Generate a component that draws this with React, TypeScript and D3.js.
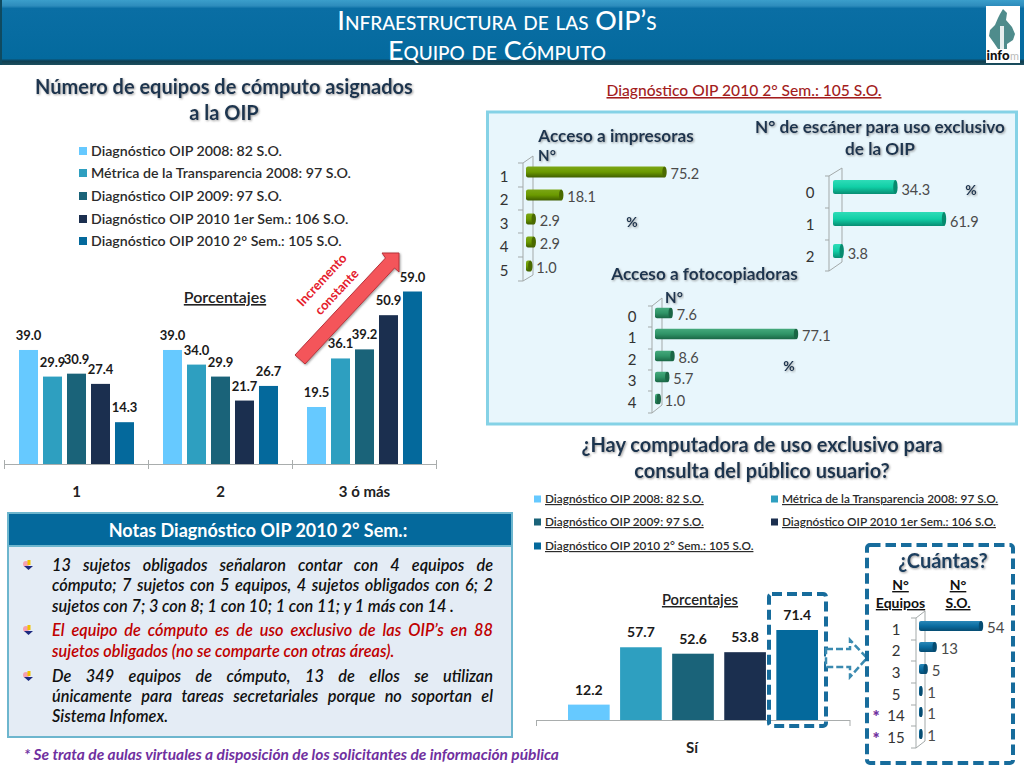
import React, { useLayoutEffect, useRef } from "react";
import * as d3 from "d3";

const FONT = "Lato, 'Open Sans', sans-serif";

const seriesNames = [
  "Diagnóstico OIP 2008: 82 S.O.",
  "Métrica de la Transparencia 2008: 97 S.O.",
  "Diagnóstico OIP 2009: 97 S.O.",
  "Diagnóstico OIP 2010 1er Sem.: 106 S.O.",
  "Diagnóstico OIP 2010 2° Sem.: 105 S.O.",
];
const seriesColors = ["#66c9ff", "#2e9fc0", "#1a6379", "#1b2f4f", "#04699c"];

const equipoCats = ["1", "2", "3 ó más"];
const equipoValues = [
  [39.0, 29.9, 30.9, 27.4, 14.3],
  [39.0, 34.0, 29.9, 21.7, 26.7],
  [19.5, 36.1, 39.2, 50.9, 59.0],
];

const impresoraCats = ["1", "2", "3", "4", "5"];
const impresoraValues = [75.2, 18.1, 2.9, 2.9, 1.0];
const escanerCats = ["0", "1", "2"];
const escanerValues = [34.3, 61.9, 3.8];
const fotoCats = ["0", "1", "2", "3", "4"];
const fotoValues = [7.6, 77.1, 8.6, 5.7, 1.0];

const consultaValues = [12.2, 57.7, 52.6, 53.8, 71.4];
const cuantasCats = ["1", "2", "3", "5", "14", "15"];
const cuantasValues = [54, 13, 5, 1, 1, 1];

const notes = [
  { t: "13 sujetos obligados señalaron contar con 4 equipos de", y: 571, j: true, c: "#111" },
  { t: "cómputo; 7 sujetos con 5 equipos, 4 sujetos obligados con 6; 2", y: 591, j: true, c: "#111" },
  { t: "sujetos con 7; 3 con 8; 1 con 10; 1 con 11; y 1 más con 14 .", y: 612, j: false, c: "#111" },
  { t: "El equipo de cómputo es de uso exclusivo de las OIP’s en 88", y: 636, j: true, c: "#c00000" },
  { t: "sujetos obligados (no se comparte con otras áreas).", y: 657, j: false, c: "#c00000" },
  { t: "De 349 equipos de cómputo, 13 de ellos se utilizan", y: 682, j: true, c: "#111" },
  { t: "únicamente para tareas secretariales porque no soportan el", y: 702, j: true, c: "#111" },
  { t: "Sistema Infomex.", y: 722, j: false, c: "#111" },
];

function Heading({ x, y, size, children, fill = "#1d3650" }: any) {
  return (
    <text x={x} y={y} textAnchor="middle" fontSize={size} fontWeight={700} fill={fill} filter="url(#soft)">
      {children}
    </text>
  );
}

function ULabel({ x, y, size, children, fill = "#222", weight = 600 }: any) {
  return (
    <text x={x} y={y} textAnchor="middle" fontSize={size} fontWeight={weight} fill={fill} textDecoration="underline">
      {children}
    </text>
  );
}

type HBarProps = {
  cats: string[]; values: number[]; ys: number[]; x0: number; unit: number; cap: number; h: number;
  gradient: string; capFill: string; catX: number; catDy: number; labelDy: number; labelSize?: number;
  digits?: number; frame: { fx: number; bx: number; ft: number; fb: number; bt: number; bb: number; tickLen: number; ticks: number[] };
};

function HBars({ cats, values, ys, x0, unit, cap, h, gradient, capFill, catX, catDy, labelDy, labelSize = 14.5, digits = 1, frame }: HBarProps) {
  const x = d3.scaleLinear().domain([0, 1]).range([x0, x0 + unit]);
  return (
    <g>
      <g stroke="#a3a9a9" strokeWidth={1} fill="none">
        <path d={`M${frame.fx},${frame.ft}L${frame.bx},${frame.bt}L${frame.bx},${frame.bb}L${frame.fx},${frame.fb}Z`} />
        {frame.ticks.map((t) => (
          <line key={t} x1={frame.fx - frame.tickLen} x2={frame.fx} y1={t} y2={t} />
        ))}
      </g>
      {values.map((v, i) => {
        const end = x(v) + cap;
        return (
          <g key={i}>
            <rect x={x0} y={ys[i] - h / 2} width={end - x0} height={h} rx={2} fill={`url(#${gradient})`} />
            <ellipse cx={end - 1} cy={ys[i]} rx={Math.min(2.2, (end - x0) / 2)} ry={h / 2} fill={capFill} />
            <text x={end + 5} y={ys[i] + labelDy} fontSize={labelSize} fill="#4a4a4a">
              {v.toFixed(digits)}
            </text>
            <text x={catX} y={ys[i] + catDy} fontSize={15} fill="#333" textAnchor="middle">
              {cats[i]}
            </text>
          </g>
        );
      })}
    </g>
  );
}

export default function App() {
  const notesRef = useRef<SVGGElement>(null);

  useLayoutEffect(() => {
    const g = notesRef.current;
    if (!g) return;
    g.querySelectorAll("text[data-j='1']").forEach((el: any) => {
      el.style.wordSpacing = "0px";
      const natural = el.getComputedTextLength();
      const gaps = (el.textContent.match(/ /g) || []).length;
      el.style.wordSpacing = `${(441 - natural) / gaps}px`;
    });
  }, []);

  const yL = d3.scaleLinear().domain([0, 59]).range([464, 291.5]);
  const x0L = d3.scaleBand<string>().domain(equipoCats).range([4.5, 436.5]);
  const x1L = d3.scaleBand<number>().domain(d3.range(5)).range([14.5, 129.5]).paddingInner(0.208);
  const yB = d3.scaleLinear().domain([0, 71.4]).range([720, 630]);
  const xB = d3.scaleBand<number>().domain(d3.range(5)).range([568, 818]).paddingInner(0.2);

  return (
    <svg
      width={1024}
      height={768}
      viewBox="0 0 1024 768"
      style={{ position: "absolute", left: 0, top: 0, background: "#fff" }}
      fontFamily={FONT}
    >
      <defs>
        <filter id="soft" x="-5%" y="-20%" width="110%" height="150%">
          <feDropShadow dx="1" dy="1" stdDeviation="0.8" floodColor="#777" floodOpacity="0.7" />
        </filter>
        <linearGradient id="hdr" x1="0" y1="0" x2="0" y2="1">
          <stop offset="0" stopColor="#3b9ecb" />
          <stop offset="0.09" stopColor="#2d8cbc" />
          <stop offset="0.13" stopColor="#0a6ea4" />
          <stop offset="0.9" stopColor="#046a9e" />
          <stop offset="0.94" stopColor="#103f52" />
          <stop offset="1" stopColor="#1c4f5f" />
        </linearGradient>
        <linearGradient id="olive" x1="0" y1="0" x2="0" y2="1">
          <stop offset="0" stopColor="#7ba616" />
          <stop offset="0.5" stopColor="#6b9a00" />
          <stop offset="1" stopColor="#3f5e00" />
        </linearGradient>
        <linearGradient id="teal" x1="0" y1="0" x2="0" y2="1">
          <stop offset="0" stopColor="#2fdcb8" />
          <stop offset="0.5" stopColor="#10cfa6" />
          <stop offset="1" stopColor="#078d72" />
        </linearGradient>
        <linearGradient id="green" x1="0" y1="0" x2="0" y2="1">
          <stop offset="0" stopColor="#45a97c" />
          <stop offset="0.5" stopColor="#2f9467" />
          <stop offset="1" stopColor="#1a6645" />
        </linearGradient>
        <linearGradient id="blue" x1="0" y1="0" x2="0" y2="1">
          <stop offset="0" stopColor="#2a88b8" />
          <stop offset="0.5" stopColor="#0a6ca0" />
          <stop offset="1" stopColor="#064c72" />
        </linearGradient>
      </defs>

      {/* Header */}
      <rect x={0} y={0} width={1024} height={65} fill="url(#hdr)" />
      <rect x={0} y={0} width={2} height={65} fill="#0f4a60" />
      <g fill="#fff" textAnchor="middle" fontWeight={500} style={{ fontVariant: "small-caps" }}>
        <text x={497} y={30} fontSize={26.8}>Infraestructura de las OIP’s</text>
        <text x={497} y={60} fontSize={26.8}>Equipo de Cómputo</text>
      </g>
      {/* Logo */}
      <rect x={986} y={6} width={34} height={57} fill="#fff" />
      <path
        d="M1003,9 L1007,13 L1006,20 L1012,27 L1015,34 L1013,40 L1007,44 L1007,49 L998,49 L994,43 L989,36 L990,30 L995,25 L998,18 L1000,14 Z"
        fill="#4f8c8c"
      />
      <rect x={1000} y={26} width={4} height={23} fill="#e6eeee" />
      <text x={986.5} y={60} fontSize={14} fontWeight={900} fill="#111" textLength={23} lengthAdjust="spacingAndGlyphs">info</text>
      <text x={1010} y={60} fontSize={11} fill="#bbb" textLength={9} lengthAdjust="spacingAndGlyphs">m</text>

      {/* Left heading */}
      <Heading x={224} y={94} size={20}>Número de equipos de cómputo asignados</Heading>
      <Heading x={224} y={120} size={20}>a la OIP</Heading>

      {/* Left legend */}
      {seriesNames.map((n, i) => {
        const ly = [151, 173, 196, 219, 241][i];
        return (
          <g key={n}>
            <rect x={79} y={ly - 4} width={8} height={8} fill={seriesColors[i]} />
            <text x={91} y={ly + 5} fontSize={14.2} fontWeight={600} fill="#2b2b2b">{n}</text>
          </g>
        );
      })}

      <ULabel x={225} y={303} size={16}>Porcentajes</ULabel>

      {/* Left grouped bars */}
      {equipoCats.map((c, gi) => (
        <g key={c} transform={`translate(${x0L(c)},0)`}>
          {equipoValues[gi].map((v, si) => (
            <g key={si}>
              <rect x={x1L(si)} y={yL(v)} width={x1L.bandwidth()} height={464 - yL(v)} fill={seriesColors[si]} />
              <text x={x1L(si)! + x1L.bandwidth() / 2} y={yL(v) - 10} textAnchor="middle" fontSize={13} fontWeight={700} fill="#1a1a1a">
                {v.toFixed(1)}
              </text>
            </g>
          ))}
          <text x={x0L.bandwidth() / 2} y={497} textAnchor="middle" fontSize={15} fontWeight={700} fill="#222">{c}</text>
        </g>
      ))}
      <g stroke="#a9adad" strokeWidth={1} fill="none">
        <line x1={4.5} x2={436.5} y1={464.5} y2={464.5} />
        {[...equipoCats.map((c) => x0L(c)!), 436.5].map((t) => (
          <line key={t} x1={t} x2={t} y1={460} y2={469} />
        ))}
      </g>

      {/* Increase arrow */}
      <path
        d="M295,355 L385.5,258 L382,253 L399,253 L399,272 L394.5,268 L305,364 Z"
        fill="#f4545a"
        stroke="#b8323a"
        strokeWidth={1}
        filter="url(#soft)"
      />
      <g fill="#e5202c" fontSize={13} fontWeight={700} textAnchor="middle">
        <text transform="translate(325,283) rotate(-47)">Incremento</text>
        <text transform="translate(340,295) rotate(-47)">constante</text>
      </g>

      {/* Right top */}
      <text x={744} y={96} textAnchor="middle" fontSize={15.6} fontWeight={500} fill="#a31d1d" textDecoration="underline">
        Diagnóstico OIP 2010 2° Sem.: 105 S.O.
      </text>
      <rect x={487.5} y={112} width={529} height={312} fill="#e8f6fc" stroke="#85d2e6" strokeWidth={3} />

      <Heading x={616} y={142} size={17.2}>Acceso a impresoras</Heading>
      <Heading x={547} y={161} size={15}>N°</Heading>
      <Heading x={632} y={227} size={14}>%</Heading>
      <HBars
        cats={impresoraCats}
        values={impresoraValues}
        ys={[172, 195, 219, 242, 266]}
        x0={526}
        unit={136 / 75.2}
        cap={3.5}
        h={11}
        gradient="olive"
        capFill="#4a6a00"
        catX={504}
        catDy={10}
        labelDy={7}
        frame={{ fx: 523, bx: 533, ft: 163, fb: 281, bt: 156, bb: 275, tickLen: 5, ticks: [163, 187, 210, 233, 257, 281] }}
      />

      <Heading x={880} y={133} size={17.2}>N° de escáner para uso exclusivo</Heading>
      <Heading x={880} y={155} size={17.2}>de la OIP</Heading>
      <Heading x={971} y={195} size={14}>%</Heading>
      <HBars
        cats={escanerCats}
        values={escanerValues}
        ys={[187, 219, 251]}
        x0={833}
        unit={109 / 61.9}
        cap={3}
        h={14}
        gradient="teal"
        capFill="#068a6e"
        catX={810}
        catDy={11}
        labelDy={8}
        frame={{ fx: 829, bx: 842, ft: 176, fb: 271, bt: 168, bb: 262, tickLen: 4, ticks: [176, 208, 240, 271] }}
      />

      <Heading x={704.5} y={280} size={17.2}>Acceso a fotocopiadoras</Heading>
      <Heading x={674} y={303} size={15}>N°</Heading>
      <Heading x={789} y={371} size={14}>%</Heading>
      <HBars
        cats={fotoCats}
        values={fotoValues}
        ys={[313, 334, 356, 377, 399]}
        x0={655}
        unit={139 / 77.1}
        cap={3}
        h={10.5}
        gradient="green"
        capFill="#1a6645"
        catX={632}
        catDy={9}
        labelDy={7}
        frame={{ fx: 652, bx: 662, ft: 306, fb: 413, bt: 298, bb: 405, tickLen: 4, ticks: [306, 327, 349, 370, 391, 413] }}
      />

      {/* Question */}
      <Heading x={762} y={452} size={20}>¿Hay computadora de uso exclusivo para</Heading>
      <Heading x={762} y={478} size={20}>consulta del público usuario?</Heading>

      {/* Right legend */}
      {seriesNames.map((n, i) => {
        const lx = i % 2 === 0 ? 534 : 771;
        const ly = [499, 499, 522, 522, 546][i];
        return (
          <g key={n}>
            <rect x={lx} y={ly - 3.5} width={7} height={7} fill={seriesColors[i]} />
            <text x={lx + 11} y={ly + 4} fontSize={11.8} fontWeight={600} fill="#2b2b2b" textDecoration="underline">{n}</text>
          </g>
        );
      })}

      <ULabel x={700} y={605} size={14.8}>Porcentajes</ULabel>

      {/* Bottom bars */}
      {consultaValues.map((v, i) => (
        <g key={i}>
          <rect x={xB(i)} y={yB(v)} width={xB.bandwidth()} height={720 - yB(v)} fill={seriesColors[i]} />
          <text x={xB(i)! + xB.bandwidth() / 2} y={yB(v) - 10} textAnchor="middle" fontSize={14} fontWeight={700} fill="#1a1a1a">
            {v.toFixed(1)}
          </text>
        </g>
      ))}
      <g stroke="#a9adad" strokeWidth={1}>
        <line x1={536.5} x2={850} y1={720.5} y2={720.5} />
        <line x1={536.5} x2={536.5} y1={720} y2={726} />
        <line x1={850} x2={850} y1={720} y2={726} />
      </g>
      <text x={692} y={753} textAnchor="middle" fontSize={15} fontWeight={700} fill="#222">Sí</text>

      {/* Dashed highlight */}
      <rect x={769} y={594} width={57} height={132} rx={3} fill="none" stroke="#176c9c" strokeWidth={4} strokeDasharray="10 5" />
      <path
        d="M826,649 L850,649 L850,640 L867,658 L850,677 L850,667 L826,667 Z"
        fill="#fff"
        stroke="#3a8ab0"
        strokeWidth={2.5}
        strokeDasharray="7 3"
      />

      {/* Cuántas box */}
      <rect x={867} y={545} width={146} height={218} rx={3} fill="#fff" stroke="#176c9c" strokeWidth={4} strokeDasharray="10.5 5" />
      <Heading x={943} y={568} size={20} fill="#1a3f60">¿Cuántas?</Heading>
      <g fontSize={14} fontWeight={700} fill="#111" textAnchor="middle" textDecoration="underline">
        <text x={900.5} y={590}>N°</text>
        <text x={900.5} y={608}>Equipos</text>
        <text x={958} y={590}>N°</text>
        <text x={958} y={608}>S.O.</text>
      </g>
      <HBars
        cats={cuantasCats}
        values={cuantasValues}
        ys={[626, 647, 669, 691, 712, 734]}
        x0={919}
        unit={61 / 54}
        cap={2}
        h={10}
        gradient="blue"
        capFill="#064c72"
        catX={896}
        catDy={9}
        labelDy={7}
        labelSize={15}
        digits={0}
        frame={{ fx: 916, bx: 925, ft: 618, fb: 748, bt: 611, bb: 741, tickLen: 5, ticks: [618, 640, 661, 683, 705, 726, 748] }}
      />
      <g fill="#7030a0" fontSize={17} fontWeight={900} textAnchor="middle">
        <text x={876} y={723}>*</text>
        <text x={876} y={745}>*</text>
      </g>

      {/* Notes */}
      <rect x={8} y={513} width={504} height={224} fill="#e4ecf5" stroke="#6db6ce" strokeWidth={2} />
      <rect x={8} y={513} width={504} height={33} fill="#04699c" stroke="#6db6ce" strokeWidth={2} />
      <text x={258} y={537} textAnchor="middle" fontSize={18} fontWeight={700} fill="#fff">
        Notas Diagnóstico OIP 2010 2° Sem.:
      </text>
      {[566, 631, 677].map((by) => (
        <g key={by}>
          <circle cx={26} cy={by - 2} r={3} fill="#f5a0b0" />
          <rect x={27.5} y={by - 6} width={3} height={5} fill="#f2c200" />
          <path d={`M24,${by} L33,${by} L28.5,${by + 4} Z`} fill="#1c2a80" />
        </g>
      ))}
      <g ref={notesRef} fontSize={16.3} fontStyle="italic" fontWeight={600}>
        {notes.map((n) => (
          <text key={n.t} x={52} y={n.y} fill={n.c} data-j={n.j ? "1" : "0"}>{n.t}</text>
        ))}
      </g>
      <text x={24} y={760} fontSize={15.5} fontStyle="italic" fontWeight={700} fill="#7030a0">
        * Se trata de aulas virtuales a disposición de los solicitantes de información pública
      </text>
    </svg>
  );
}
